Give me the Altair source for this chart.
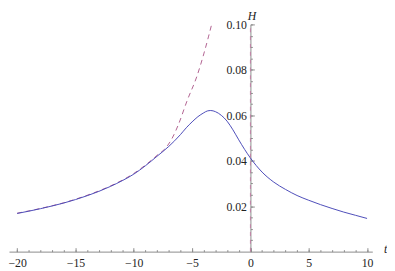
import altair as alt
import pandas as pd

# Solid curve
solid_t = [-20, -19, -18, -17, -16, -15, -14, -13, -12, -11, -10, -9, -8, -7, -6, -5.5, -5, -4.5,
           -4, -3.7, -3.4, -3, -2.5, -2, -1.5, -1, -0.5, 0, 1, 2, 3, 4, 5, 6, 7, 8, 9, 10]
solid_h = [0.0168, 0.0178, 0.0189, 0.0201, 0.0214, 0.0229, 0.0246, 0.0265, 0.0287, 0.0312, 0.0341,
           0.0378, 0.0420, 0.0463, 0.0515, 0.0545, 0.0571, 0.0594, 0.0611, 0.0619, 0.0621, 0.0616,
           0.0600, 0.0574, 0.0536, 0.0492, 0.0450, 0.0412, 0.0350, 0.0306, 0.0274, 0.0247, 0.0226,
           0.0207, 0.0190, 0.0174, 0.0160, 0.0146]

# Dashed curve
dashed_t = [-20, -18, -16, -14, -12, -10, -9, -8, -7.2, -6.7, -6.2, -5.4, -4.6, -4.0, -3.6, -3.3]
dashed_h = [0.0169, 0.0190, 0.0215, 0.0248, 0.0289, 0.0344, 0.0381, 0.0424, 0.0460, 0.0500,
            0.0556, 0.0668, 0.0770, 0.0870, 0.0945, 0.1005]

# Vertical line of the dashed curve at t = 0
vline_t = [0]
vline_from = [0.0]
vline_to = [0.10]

x_major = [-20, -15, -10, -5, 0, 5, 10]
x_minor = list(range(-20, 11))
y_major = [0.02, 0.04, 0.06, 0.08, 0.10]
y_minor = [round(0.005 * i, 3) for i in range(1, 21)]

x_domain = [-20.7, 10.45]
y_domain = [0, 0.10]

W, H = 371, 232
# pixel position of t = 0 inside the plot
x0_px = (0 - x_domain[0]) / (x_domain[1] - x_domain[0]) * W

solid_df = pd.DataFrame({"t": solid_t, "H": solid_h})
dashed_df = pd.DataFrame({"t": dashed_t, "H": dashed_h})
vline_df = pd.DataFrame({"t": vline_t, "y1": vline_from, "y2": vline_to})

FONT = "Liberation Serif"
AX = dict(domainColor="#8a8a8a", tickColor="#8a8a8a", labelColor="#222222",
          labelFont=FONT, labelFontSize=12, grid=False, labelFlush=False,
          labelOverlap=False, labelBound=False)

xs = alt.Scale(domain=x_domain, nice=False, zero=False)
ys = alt.Scale(domain=y_domain, nice=False, zero=False)

x_major_axis = alt.Axis(orient="top", offset=-H, values=x_major, tickSize=4,
                        labelPadding=-10, labelBaseline="top", format="d",
                        title="t", titleFont=FONT, titleFontSize=12, titleFontStyle="italic",
                        titleFontWeight="normal", titleColor="#222222",
                        titleAngle=0, titleX=W + 13, titleY=-3, titleAlign="center",
                        titleBaseline="middle", **AX)
y_major_axis = alt.Axis(orient="right", offset=x0_px - W, values=y_major, tickSize=4,
                        labelPadding=-8, labelAlign="right", labelBaseline="middle",
                        format=".2f",
                        title="H", titleFont=FONT, titleFontSize=12, titleFontStyle="italic",
                        titleFontWeight="normal", titleColor="#222222",
                        titleAngle=0, titleX=1, titleY=-14, titleAlign="center",
                        titleBaseline="top", **AX)
x_minor_axis = alt.Axis(orient="top", offset=-H, values=x_minor, tickSize=2,
                        labels=False, title=None, domain=False, tickColor="#8a8a8a", grid=False)
y_minor_axis = alt.Axis(orient="right", offset=x0_px - W, values=y_minor, tickSize=2,
                        labels=False, title=None, domain=False, tickColor="#8a8a8a", grid=False)

solid = alt.Chart(solid_df).mark_line(color="#4b4bb8", strokeWidth=1, interpolate="monotone").encode(
    x=alt.X("t:Q", scale=xs, axis=x_major_axis),
    y=alt.Y("H:Q", scale=ys, axis=y_major_axis),
)

dashed = alt.Chart(dashed_df).mark_line(color="#b0608f", strokeWidth=1, strokeDash=[5, 4],
                                        interpolate="monotone").encode(
    x=alt.X("t:Q", scale=xs, axis=x_minor_axis),
    y=alt.Y("H:Q", scale=ys, axis=y_minor_axis),
)

vline = alt.Chart(vline_df).mark_rule(color="#c080a4", strokeWidth=1, strokeDash=[4, 4]).encode(
    x=alt.X("t:Q", scale=xs, axis=None),
    y=alt.Y("y1:Q", scale=ys, axis=None),
    y2="y2:Q",
)

chart = alt.layer(dashed, solid, vline).resolve_axis(x="independent", y="independent").properties(
    width=W, height=H,
    autosize=alt.AutoSizeParams(type="none"),
    padding={"left": 1, "top": 14, "right": 15, "bottom": 16},
).configure(font=FONT).configure_view(stroke=None)

chart.save("out.html", embed_options={"renderer": "svg", "actions": False})
